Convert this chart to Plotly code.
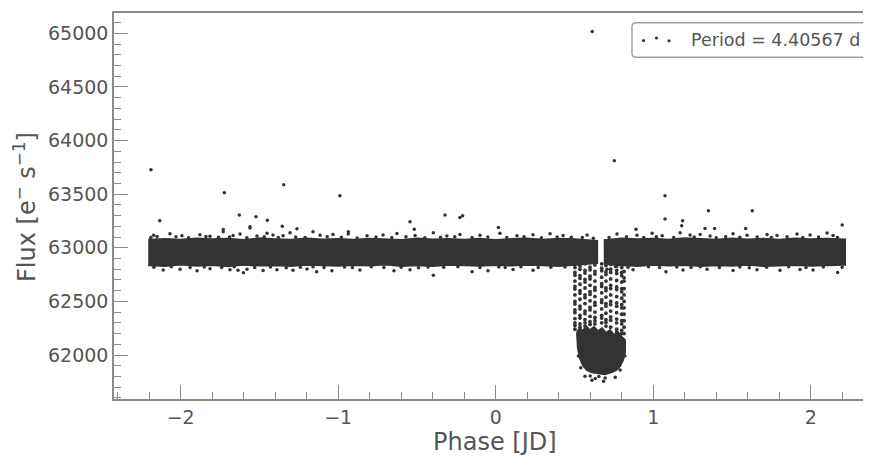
import plotly.graph_objects as go

# ---------------- data ----------------
# dense out-of-transit band, left part: envelope (phase, top flux, bottom flux)
band_left_phase = [-2.206, -2.1, -2.0, -1.9, -1.8, -1.7, -1.6, -1.5, -1.4, -1.3, -1.2, -1.1, -1.0,
                   -0.9, -0.8, -0.7, -0.6, -0.5, -0.4, -0.3, -0.2, -0.1, 0.0, 0.1, 0.2, 0.3,
                   0.4, 0.5, 0.6, 0.644]
band_left_top = [63075, 63083, 63074, 63087, 63079, 63085, 63073, 63088, 63080, 63075, 63086, 63077,
                 63082, 63074, 63085, 63079, 63073, 63087, 63078, 63083, 63075, 63085, 63072, 63081,
                 63087, 63076, 63084, 63079, 63073, 63065]
band_left_bot = [62837, 62831, 62843, 62833, 62839, 62827, 62841, 62834, 62838, 62830, 62842, 62835,
                 62832, 62840, 62834, 62843, 62831, 62837, 62829, 62841, 62835, 62832, 62839, 62834,
                 62842, 62836, 62831, 62845, 62852, 62858]
# right part
band_right_phase = [0.686, 0.8, 0.9, 1.0, 1.1, 1.2, 1.3, 1.4, 1.5, 1.6, 1.7, 1.8, 1.9, 2.0, 2.1, 2.218]
band_right_top = [63070, 63087, 63079, 63085, 63074, 63088, 63081, 63076, 63086, 63078, 63084, 63075,
                  63087, 63080, 63085, 63077]
band_right_bot = [62852, 62837, 62831, 62841, 62834, 62839, 62829, 62838, 62833, 62842, 62831, 62836,
                  62840, 62832, 62835, 62841]

# dense bottom of the transit (envelope)
transit_core_phase = [0.516, 0.535, 0.554, 0.573, 0.599, 0.624, 0.650, 0.675, 0.700, 0.726, 0.751,
                      0.776, 0.802, 0.821, 0.821, 0.808, 0.789, 0.764, 0.732, 0.694, 0.650, 0.611,
                      0.580, 0.554, 0.535, 0.522]
transit_core_flux = [62213, 62250, 62222, 62269, 62232, 62260, 62222, 62250, 62204, 62232, 62185,
                     62213, 62166, 62138, 62027, 61952, 61896, 61858, 61839, 61821, 61830, 61839,
                     61858, 61905, 61970, 62064]

# sparse ingress / egress columns (phase of column, fluxes in it)
col_phase = [0.503, 0.535, 0.567, 0.599, 0.630, 0.673, 0.700, 0.730, 0.768, 0.800, 0.815]
col_flux = [
    [62845, 62815, 62770, 62745, 62690, 62640, 62615, 62560, 62500, 62475, 62420, 62395, 62340, 62300, 62275, 62240],
    [62830, 62800, 62740, 62715, 62660, 62600, 62575, 62520, 62455, 62430, 62370, 62345, 62290, 62260],
    [62850, 62790, 62765, 62705, 62680, 62625, 62560, 62535, 62480, 62410, 62385, 62330, 62300, 62270],
    [62820, 62795, 62735, 62710, 62650, 62590, 62565, 62505, 62445, 62420, 62360, 62310, 62285],
    [62840, 62780, 62755, 62690, 62630, 62605, 62545, 62490, 62465, 62400, 62350, 62320, 62290],
    [62850, 62810, 62785, 62725, 62665, 62640, 62580, 62515, 62490, 62430, 62370, 62345, 62300],
    [62835, 62775, 62750, 62690, 62625, 62600, 62540, 62480, 62455, 62390, 62330, 62305, 62270],
    [62845, 62800, 62770, 62710, 62650, 62620, 62560, 62500, 62470, 62410, 62355, 62325, 62260],
    [62830, 62790, 62760, 62695, 62635, 62610, 62545, 62485, 62455, 62395, 62335, 62300, 62240, 62210],
    [62815, 62770, 62740, 62680, 62620, 62590, 62530, 62470, 62440, 62380, 62320, 62290, 62230, 62200],
    [62780, 62720, 62690, 62620, 62560, 62500, 62440, 62380, 62320, 62260, 62200],
]

# points just above the dense band
upper_phase = [-2.172, -2.150, -2.068, -1.992, -1.878, -1.814, -1.730, -1.667, -1.623, -1.560,
               -1.516, -1.452, -1.414, -1.350, -1.306, -1.160, -1.115, -1.033, -0.936, -0.817,
               -0.715, -0.627, -0.512, -0.396, -0.310, -0.227, -0.100, 0.027, 0.135, 0.237,
               0.345, 0.428, 0.580, 0.770, 0.897, 0.993, 1.057, 1.171, 1.234, 1.298,
               1.361, 1.507, 1.596, 1.723, 1.786, 1.913, 1.996, 2.104, 2.142,
               -2.19, -2.03, -1.95, -1.84, -1.76, -1.69, -1.58, -1.47, -1.38, -1.27,
               -1.21, -1.07, -0.98, -0.88, -0.76, -0.66, -0.57, -0.45, -0.35, -0.26,
               -0.15, -0.05, 0.07, 0.18, 0.29, 0.39, 0.48, 0.55, 0.62, 0.72,
               0.83, 0.94, 1.02, 1.13, 1.26, 1.40, 1.46, 1.55, 1.66, 1.75,
               1.85, 1.95, 2.05, 2.17]
upper_flux = [63118, 63105, 63130, 63112, 63122, 63108, 63150, 63115, 63128, 63196,
              63110, 63135, 63120, 63112, 63140, 63149, 63118, 63125, 63128, 63112,
              63120, 63133, 63115, 63140, 63110, 63125, 63118, 63135, 63112, 63122,
              63130, 63115, 63120, 63128, 63118, 63135, 63112, 63140, 63120, 63125,
              63110, 63132, 63118, 63125, 63115, 63128, 63120, 63138, 63115,
              63096, 63102, 63094, 63105, 63098, 63101, 63093, 63104, 63097, 63100,
              63095, 63103, 63098, 63092, 63101, 63096, 63104, 63094, 63099, 63102,
              63095, 63100, 63097, 63103, 63094, 63101, 63098, 63096, 63088, 63095,
              63102, 63097, 63104, 63095, 63100, 63093, 63102, 63098, 63101, 63095,
              63103, 63097, 63100, 63096]

# points just below the dense band
lower_phase = [-2.111, -2.004, -1.896, -1.814, -1.687, -1.636, -1.602, -1.579, -1.477, -1.389,
               -1.287, -1.198, -1.137, -1.040, -0.862, -0.646, -0.544, -0.396, -0.150, -0.049,
               0.110, 0.237, 0.707, 0.872, 1.081, 1.189, 1.342, 1.507, 1.659, 1.805,
               1.932, 2.015, 2.171,
               -2.17, -2.06, -1.94, -1.85, -1.74, -1.66, -1.53, -1.43, -1.33, -1.24,
               -1.16, -1.09, -0.96, -0.91, -0.79, -0.71, -0.60, -0.49, -0.43, -0.33,
               -0.24, -0.10, 0.02, 0.06, 0.16, 0.27, 0.35, 0.44, 0.76, 0.84,
               0.97, 1.04, 1.15, 1.24, 1.30, 1.42, 1.55, 1.61, 1.72, 1.86,
               1.97, 2.08, 2.20]
lower_flux = [62792, 62800, 62785, 62805, 62795, 62790, 62767, 62800, 62788, 62796,
              62790, 62802, 62776, 62785, 62792, 62785, 62795, 62745, 62776, 62785,
              62798, 62790, 62800, 62795, 62776, 62792, 62800, 62788, 62795, 62790,
              62798, 62793, 62770,
              62818, 62822, 62815, 62820, 62817, 62823, 62816, 62821, 62814, 62819,
              62822, 62815, 62820, 62817, 62823, 62816, 62819, 62814, 62821, 62818,
              62822, 62815, 62820, 62817, 62823, 62816, 62819, 62821, 62826, 62818,
              62822, 62815, 62820, 62817, 62823, 62816, 62821, 62814, 62819, 62822,
              62815, 62820, 62818]

# isolated outliers
outlier_phase = [-2.189, -2.133, -1.723, -1.628, -1.522, -1.450, -1.346, -1.355, -1.560, -1.262,
                 0.613, -0.989, -0.544, -0.322, -0.227, -0.210, 0.017, -0.517, 0.753, 1.075,
                 1.075, 1.187, 1.181, 1.350, 1.629, 2.200, 0.891, 1.329, 1.390, 1.587,
                 -0.936, -1.730]
outlier_flux = [63727, 63252, 63513, 63305, 63289, 63258, 63588, 63202, 63184, 63177,
                65018, 63485, 63243, 63305, 63283, 63299, 63190, 63172, 63812, 63485,
                63268, 63252, 63205, 63345, 63345, 63212, 63172, 63180, 63180, 63180,
                63150, 63170]

# lowest in-transit points and the edge of the transit bottom
transit_low_phase = [0.611, 0.632, 0.685, 0.695, 0.759, 0.567, 0.540, 0.525, 0.812, 0.820,
                     0.790, 0.655, 0.600]
transit_low_flux = [61765, 61780, 61755, 61785, 61793, 61802, 61880, 61990, 62080, 61990,
                    61860, 61800, 61805]

legend_label = "Period = 4.40567 d"

# ---------------- figure ----------------
DARK = "#333333"
TEXT = "#555555"
LINE = "#8a8a8a"
FONT = "DejaVu Sans"

fig = go.Figure()

for xs, top, bot in [(band_left_phase, band_left_top, band_left_bot),
                     (band_right_phase, band_right_top, band_right_bot)]:
    fig.add_trace(go.Scatter(
        x=xs + xs[::-1], y=top + bot[::-1],
        fill="toself", fillcolor=DARK, mode="lines", line=dict(color=DARK, width=2),
        hoverinfo="skip", showlegend=False))

fig.add_trace(go.Scatter(
    x=transit_core_phase + transit_core_phase[:1],
    y=transit_core_flux + transit_core_flux[:1],
    fill="toself", fillcolor=DARK, mode="lines", line=dict(color=DARK, width=2),
    hoverinfo="skip", showlegend=False))

cx, cy = [], []
for p, fl in zip(col_phase, col_flux):
    cx += [p] * len(fl)
    cy += fl
fig.add_trace(go.Scatter(x=cx, y=cy, mode="markers",
                         marker=dict(color=DARK, size=3.8), showlegend=False))

for xs, ys in [(upper_phase, upper_flux), (lower_phase, lower_flux),
               (outlier_phase, outlier_flux), (transit_low_phase, transit_low_flux)]:
    fig.add_trace(go.Scatter(x=xs, y=ys, mode="markers",
                             marker=dict(color=DARK, size=3.5), showlegend=False))

# legend icon (three scatter dots, matplotlib style) on a pixel-space overlay axis
fig.add_trace(go.Scatter(x=[643.5, 656.5, 669.0], y=[40.5, 38.0, 40.8], mode="markers",
                         marker=dict(color=DARK, size=3.2), xaxis="x2", yaxis="y2",
                         showlegend=False, hoverinfo="skip"))

# page body adds an 8px offset; positions below are in reference-picture pixels
OFF = 8
L, R, T, B = 114, 871, 13, 399
W, H = R - L, B - T


def px(x):
    return (x - L) / W


def py(y):
    return (B - y) / H


x0, x1, y0, y1, r = 632, 868, 22.7, 57.3, 4
path = (f"M {px(x0 + r)},{py(y0)} L {px(x1 - r)},{py(y0)} Q {px(x1)},{py(y0)} {px(x1)},{py(y0 + r)} "
        f"L {px(x1)},{py(y1 - r)} Q {px(x1)},{py(y1)} {px(x1 - r)},{py(y1)} "
        f"L {px(x0 + r)},{py(y1)} Q {px(x0)},{py(y1)} {px(x0)},{py(y1 - r)} "
        f"L {px(x0)},{py(y0 + r)} Q {px(x0)},{py(y0)} {px(x0 + r)},{py(y0)} Z")
fig.add_shape(type="path", path=path, xref="paper", yref="paper",
              line=dict(color="#a0a0a0", width=1.5), fillcolor="white", layer="below")

fig.add_annotation(text=legend_label, xref="paper", yref="paper", x=px(689), y=py(39.5),
                   xanchor="left", yanchor="middle", showarrow=False,
                   font=dict(family=FONT, size=17.5, color=TEXT))

fig.add_annotation(text="Phase [JD]", xref="paper", yref="paper", x=px(495), y=py(442),
                   xanchor="center", yanchor="middle", showarrow=False,
                   font=dict(family=FONT, size=24, color=TEXT))
fig.add_annotation(text="Flux [e<sup>−</sup> s<sup>−1</sup>]", xref="paper", yref="paper",
                   x=px(25), y=py(207), textangle=-90,
                   xanchor="center", yanchor="middle", showarrow=False,
                   font=dict(family=FONT, size=24, color=TEXT))

FW, FH = 871 - OFF, 458 - OFF
fig.update_layout(
    width=FW, height=FH,
    margin=dict(l=L - OFF, r=FW - (R - OFF), t=T - OFF, b=FH - (B - OFF), pad=0),
    paper_bgcolor="white", plot_bgcolor="white",
    font=dict(family=FONT, color=TEXT),
    showlegend=False,
    xaxis=dict(range=[-2.4235, 2.3828], showgrid=False, zeroline=False,
               showline=True, linecolor=LINE, linewidth=1.5, mirror=True,
               ticks="inside", ticklen=14, tickwidth=1.3, tickcolor=LINE,
               tick0=0, dtick=1, tickfont=dict(family=FONT, size=19, color=TEXT),
               minor=dict(ticks="inside", ticklen=7, tickwidth=1.3, tickcolor=LINE,
                          tick0=0, dtick=0.2, showgrid=False)),
    yaxis=dict(range=[61589.6, 65190], showgrid=False, zeroline=False,
               showline=True, linecolor=LINE, linewidth=1.5, mirror=False,
               ticks="inside", ticklen=14, tickwidth=1.3, tickcolor=LINE,
               tick0=0, dtick=500, tickformat="d",
               tickfont=dict(family=FONT, size=19, color=TEXT),
               minor=dict(ticks="inside", ticklen=7, tickwidth=1.3, tickcolor=LINE,
                          tick0=0, dtick=100, showgrid=False)),
    xaxis2=dict(overlaying="x", range=[L, R], visible=False),
    yaxis2=dict(overlaying="y", range=[B, T], visible=False),
)

fig.write_html("out.html")
